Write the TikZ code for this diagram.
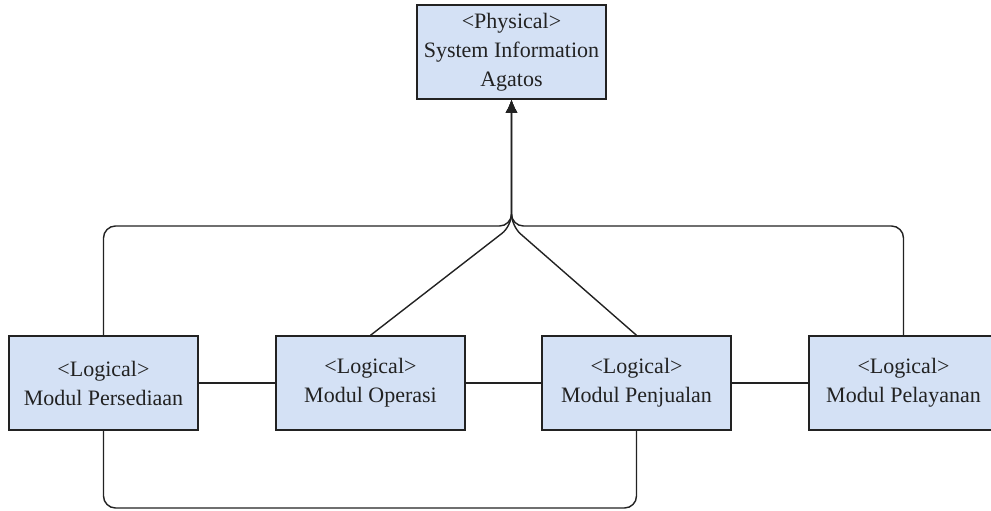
\documentclass[tikz,border=0pt]{standalone}
\usepackage{fontspec}
\setmainfont{Liberation Serif}
\usetikzlibrary{arrows.meta}
\definecolor{boxfill}{HTML}{D4E1F5}
\definecolor{ink}{HTML}{222222}
\tikzset{
  module/.style={draw=ink, fill=boxfill, line width=1.4pt, minimum width=189pt,
    minimum height=94pt, inner sep=0pt, align=center, text=ink,
    font=\fontsize{22}{29}\selectfont},
  link/.style={draw=ink, line width=1.4pt},
  toarrow/.style={link, rounded corners=12pt, -{Latex[length=13pt,width=12pt]}}
}
\begin{document}
\begin{tikzpicture}[x=1pt, y=-1pt]
  \useasboundingbox (0,0) rectangle (991,511);

  % physical system
  \node[module] (sys) at (511.5,52) {<Physical>\\System Information\\Agatos};

  % logical modules
  \node[module] (m1) at (103.5,383) {<Logical>\\Modul Persediaan};
  \node[module] (m2) at (370.5,383) {<Logical>\\Modul Operasi};
  \node[module] (m3) at (636.5,383) {<Logical>\\Modul Penjualan};
  \node[module] (m4) at (903.5,383) {<Logical>\\Modul Pelayanan};

  % junction below the physical system and return path at the bottom
  \coordinate (j) at (511.5,226);
  \coordinate (low) at (103.5,508);

  % links between neighbouring modules
  \draw[link] (m1.east) -- (m2.west);
  \draw[link] (m2.east) -- (m3.west);
  \draw[link] (m3.east) -- (m4.west);

  % loop under the first and third module
  \draw[link, rounded corners=12pt] (m1.south) -- (low) -| (m3.south);

  % every module points up to the physical system
  \draw[toarrow] (m1.north) |- (j) -- (sys.south);
  \draw[toarrow] (m4.north) |- (j) -- (sys.south);
  \draw[toarrow] (m2.north) -- (j) -- (sys.south);
  \draw[toarrow] (m3.north) -- (j) -- (sys.south);
\end{tikzpicture}
\end{document}
